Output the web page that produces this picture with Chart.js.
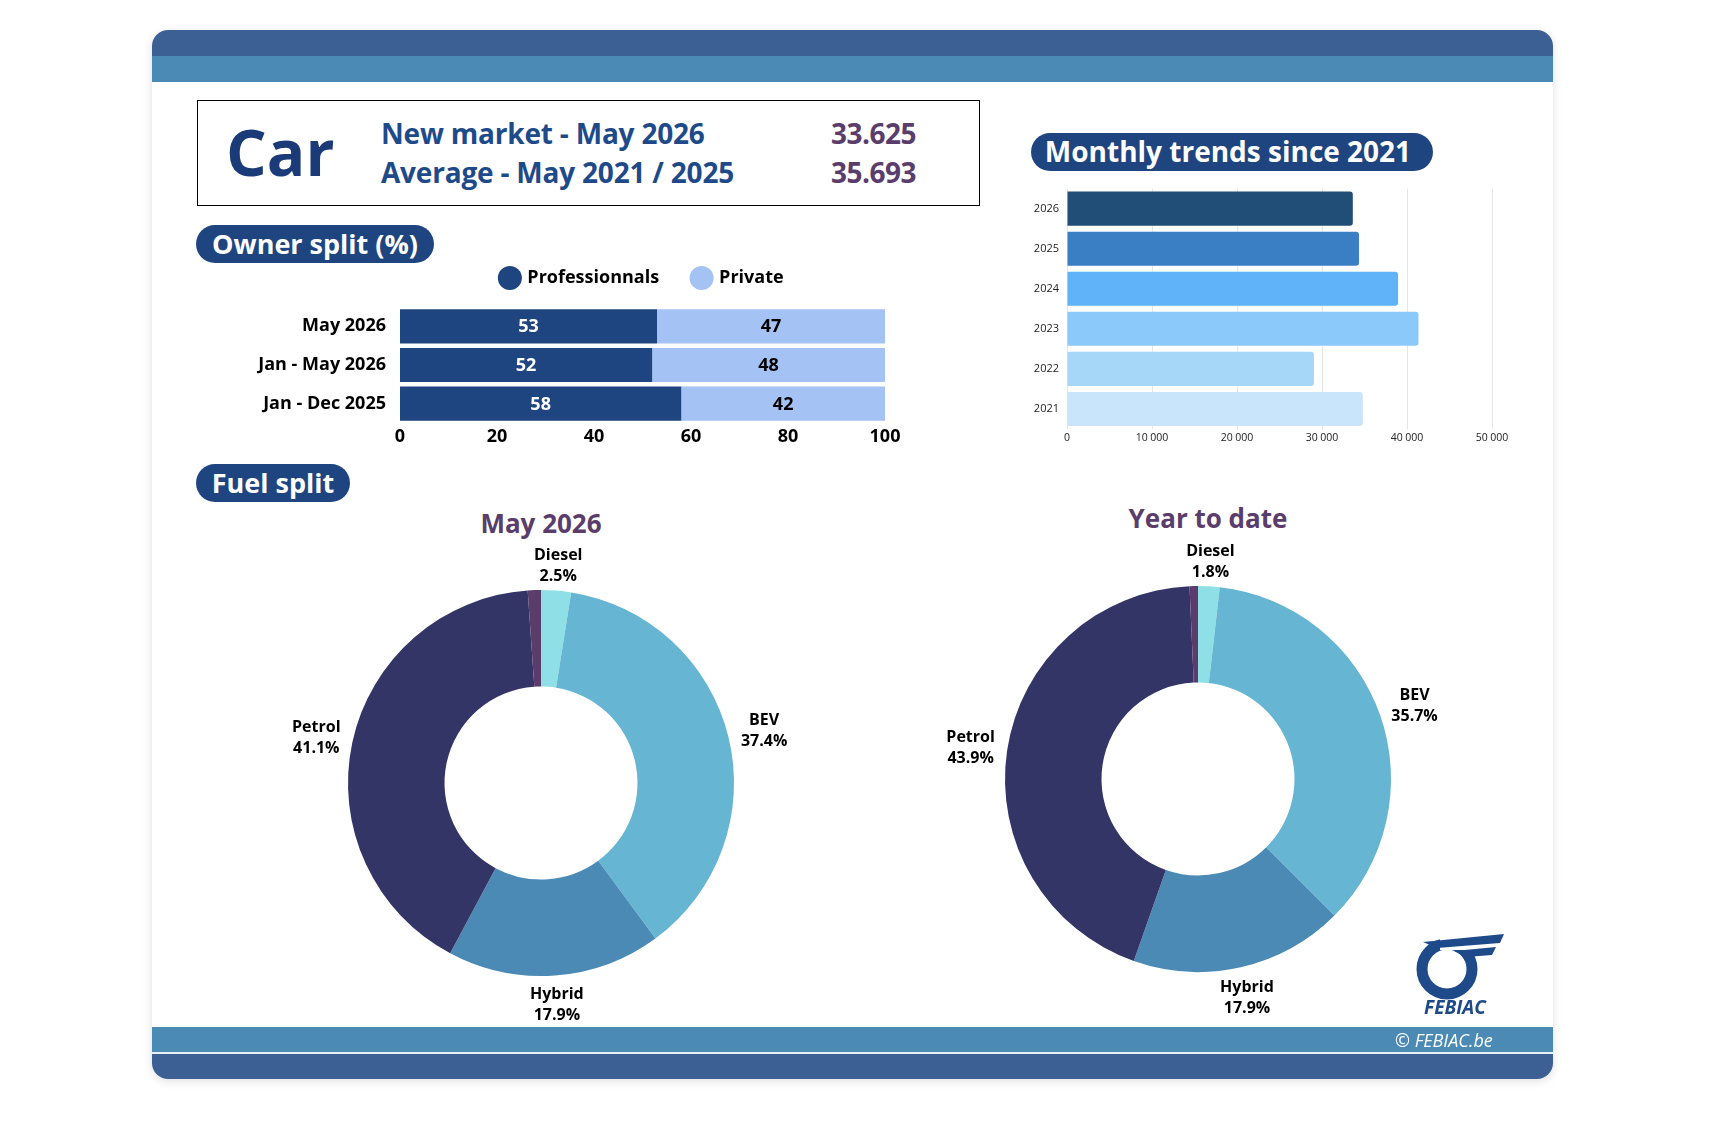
<!DOCTYPE html>
<html>
<head>
<meta charset="utf-8">
<title>Car - new market May 2026</title>
<script src="https://cdn.jsdelivr.net/npm/chart.js@4.4.1/dist/chart.umd.min.js"></script>
<style>
  html, body { margin: 0; padding: 0; }
  body {
    width: 1732px; height: 1132px; position: relative; overflow: hidden;
    background: #fff; font-family: 'Open Sans', sans-serif;
  }
  .abs  { position: absolute; }
  .card {
    left: 152px; top: 30px; width: 1401px; height: 1049px;
    border-radius: 16px; background: #fff; overflow: hidden;
    box-shadow: 0 2px 10px rgba(0,0,0,0.13);
  }
  .band { position: absolute; left: 0; width: 100%; }
  .pill {
    background: #1e4580; color: #fff; font-weight: 700; font-size: 27px;
    height: 38px; line-height: 37px; border-radius: 19px; text-align: center;
    white-space: nowrap; box-sizing: border-box;
  }
  .kpi-box {
    left: 197px; top: 100px; width: 781px; height: 104px;
    border: 1px solid #000; background: #fff;
  }
  .kpi-car {
    left: 226px; top: 104px; font-size: 64px; font-weight: 700; color: #1b3a78;
    line-height: 96px;
  }
  .kpi-label { left: 381px; font-size: 28px; font-weight: 700; color: #1f4a8a; letter-spacing: -0.2px; }
  .kpi-value { left: 831px; font-size: 28px; font-weight: 700; color: #5a3d6b; letter-spacing: -0.5px; }
  .donut-title {
    font-size: 26px; font-weight: 700; color: #5a3d6b; width: 300px;
    text-align: center; line-height: 32px;
  }
  canvas { position: absolute; }
</style>
</head>
<body>

<div class="abs card">
  <div class="band" style="top:0;height:26px;background:#3c5f94"></div>
  <div class="band" style="top:26px;height:26px;background:#4a8ab5"></div>
  <div class="band" style="top:997px;height:25px;background:#4a8ab5"></div>
  <div class="band" style="top:1022px;height:2px;background:#e8f0f8"></div>
  <div class="band" style="top:1024px;height:25px;background:#3c5f94"></div>
</div>

<div class="abs kpi-box"></div>
<div class="abs kpi-car">Car</div>
<div class="abs kpi-label" style="top:114px">New market - May 2026</div>
<div class="abs kpi-label" style="top:153px">Average - May 2021 / 2025</div>
<div class="abs kpi-value" style="top:114px">33.625</div>
<div class="abs kpi-value" style="top:153px">35.693</div>

<div class="abs pill" style="left:196px;top:225px;width:238px">Owner split (%)</div>
<div class="abs pill" style="left:1031px;top:133px;width:402px;font-size:28px;padding-right:8px">Monthly trends since 2021</div>
<div class="abs pill" style="left:196px;top:464px;width:154px">Fuel split</div>

<canvas id="ownerChart" width="705" height="220" style="left:200px;top:235px"></canvas>
<canvas id="trendChart" width="502" height="277" style="left:1020px;top:174px"></canvas>

<div class="abs donut-title" style="left:391px;top:507px">May 2026</div>
<div class="abs donut-title" style="left:1058px;top:502px">Year to date</div>
<canvas id="fuelMonthChart" width="600" height="540" style="left:241px;top:513px"></canvas>
<canvas id="fuelYtdChart" width="600" height="540" style="left:898px;top:509px"></canvas>

<!-- FEBIAC logo -->
<svg class="abs" style="left:1410px;top:928px" width="96" height="92" viewBox="0 0 96 92">
  <circle cx="37" cy="41" r="25" fill="none" stroke="#1f4a8a" stroke-width="11"/>
  <rect x="30" y="6" width="34" height="16" fill="#fff"/>
  <path d="M13 14 L94 6 L90 15 L27 20 Z" fill="#1f4a8a"/>
  <path d="M44 23 L86 19 L82 27 L56 29 Z" fill="#1f4a8a"/>
  <text x="45" y="86" text-anchor="middle" font-family="'Open Sans', sans-serif"
        font-size="19" font-weight="700" font-style="italic" fill="#1f4a8a">FEBIAC</text>
</svg>
<div class="abs" style="left:1395px;top:1028px;color:#fff;font-size:18px;font-style:italic;line-height:24px">© FEBIAC.be</div>

<script>
'use strict';

// ---------------------------------------------------------------------------
// Data
// ---------------------------------------------------------------------------

const ownerPeriods = ['May 2026', 'Jan - May 2026', 'Jan - Dec 2025'];
const ownerPro     = [53, 52, 58];
const ownerPrivate = [47, 48, 42];

const trendYears  = ['2026', '2025', '2024', '2023', '2022', '2021'];
const trendValues = [33625, 34350, 38950, 41350, 29050, 34800];

const fuelTypes = ['Diesel', 'BEV', 'Hybrid', 'Petrol', 'Other'];
const fuelMonth = [2.5, 37.4, 17.9, 41.1, 1.1];
const fuelYtd   = [1.8, 35.7, 17.9, 43.9, 0.7];

// ---------------------------------------------------------------------------
// Styles
// ---------------------------------------------------------------------------

const PRO_COLOR     = '#1e4580';
const PRIVATE_COLOR = '#a4c2f4';
const TREND_COLORS  = ['#204e77', '#3a7fc4', '#60b3f8', '#8ac9f9', '#a6d6f8', '#c8e5fb'];
const FUEL_COLORS   = ['#8ee0e6', '#65b5d3', '#4a8ab5', '#333567', '#5a3d6b'];

Chart.defaults.font.family = "'Open Sans', sans-serif";
Chart.defaults.color = '#000';
Chart.defaults.animation = false;

function thousands(v) {
  return String(v).replace(/\B(?=(\d{3})+(?!\d))/g, ' ');
}

// ---------------------------------------------------------------------------
// Plugins
// ---------------------------------------------------------------------------

// value text centred in each stacked bar segment
const barValues = {
  id: 'barValues',
  afterDatasetsDraw(chart) {
    const { ctx } = chart;
    ctx.save();
    ctx.font = "700 18px 'Open Sans'";
    ctx.textAlign = 'center';
    ctx.textBaseline = 'middle';
    chart.data.datasets.forEach((ds, di) => {
      chart.getDatasetMeta(di).data.forEach((bar, i) => {
        ctx.fillStyle = di === 0 ? '#fff' : '#000';
        ctx.fillText(ds.data[i], (bar.x + bar.base) / 2, bar.y + 1);
      });
    });
    ctx.restore();
  },
};

// fixed legend height so the bars start where they should
const legendHeight = {
  id: 'legendHeight',
  afterInit(chart) {
    const fit = chart.legend.fit;
    chart.legend.fit = function () {
      fit.call(this);
      this.height = 72;
    };
  },
};

// name + share outside each doughnut slice
const outerLabels = {
  id: 'outerLabels',
  afterDatasetsDraw(chart) {
    const { ctx } = chart;
    const values = chart.data.datasets[0].data;
    ctx.save();
    ctx.font = "700 16px 'Open Sans'";
    ctx.fillStyle = '#000';
    ctx.textAlign = 'center';
    ctx.textBaseline = 'middle';
    chart.getDatasetMeta(0).data.forEach((arc, i) => {
      const name = chart.data.labels[i];
      if (name === 'Other') return;
      const a = (arc.startAngle + arc.endAngle) / 2;
      const r = arc.outerRadius + 26 + 11 * Math.abs(Math.cos(a));
      const x = arc.x + Math.cos(a) * r;
      const y = arc.y + Math.sin(a) * r + 2;
      ctx.fillText(name, x, y - 10);
      ctx.fillText(values[i].toFixed(1) + '%', x, y + 11);
    });
    ctx.restore();
  },
};

// ---------------------------------------------------------------------------
// Owner split
// ---------------------------------------------------------------------------

new Chart(document.getElementById('ownerChart'), {
  type: 'bar',
  data: {
    labels: ownerPeriods,
    datasets: [
      { label: 'Professionnals', data: ownerPro,     backgroundColor: PRO_COLOR },
      { label: 'Private',        data: ownerPrivate, backgroundColor: PRIVATE_COLOR },
    ],
  },
  options: {
    indexAxis: 'y',
    responsive: false,
    barPercentage: 0.885,
    categoryPercentage: 1,
    layout: { padding: { right: 20 } },
    plugins: {
      tooltip: { enabled: false },
      legend: {
        fullSize: false,
        labels: {
          usePointStyle: true, pointStyle: 'circle',
          boxWidth: 17, boxHeight: 17, padding: 34,
          font: { size: 18, weight: '700' }, color: '#000',
        },
      },
    },
    scales: {
      x: {
        stacked: true, min: 0, max: 100,
        grid: { display: false, drawTicks: false }, border: { display: false },
        ticks: { stepSize: 20, padding: 3, font: { size: 18, weight: '700' }, color: '#000' },
        afterFit: axis => { axis.height = 32; },
      },
      y: {
        stacked: true,
        grid: { display: false, drawTicks: false }, border: { display: false },
        ticks: { padding: 14, font: { size: 18, weight: '700' }, color: '#000' },
        afterFit: axis => { axis.width = 200; },
      },
    },
  },
  plugins: [barValues, legendHeight],
});

// ---------------------------------------------------------------------------
// Monthly trends
// ---------------------------------------------------------------------------

new Chart(document.getElementById('trendChart'), {
  type: 'bar',
  data: {
    labels: trendYears,
    datasets: [{
      data: trendValues,
      backgroundColor: TREND_COLORS,
      borderRadius: 3,
      borderSkipped: 'left',
    }],
  },
  options: {
    indexAxis: 'y',
    responsive: false,
    barPercentage: 0.85,
    categoryPercentage: 1,
    layout: { padding: { top: 9, right: 30 } },
    plugins: { legend: { display: false }, tooltip: { enabled: false } },
    scales: {
      x: {
        min: 0, max: 50000,
        grid: { color: '#e6e6e6', drawTicks: false }, border: { display: false },
        ticks: { stepSize: 10000, padding: 3, font: { size: 10.5 }, color: '#222', callback: v => thousands(v) },
        afterFit: axis => { axis.height = 22; },
      },
      y: {
        grid: { display: false, drawTicks: false }, border: { display: false },
        ticks: { padding: 8, font: { size: 11 }, color: '#222' },
        afterFit: axis => { axis.width = 47; },
      },
    },
  },
});

// ---------------------------------------------------------------------------
// Fuel split doughnuts
// ---------------------------------------------------------------------------

function fuelChart(id, values) {
  return new Chart(document.getElementById(id), {
    type: 'doughnut',
    data: {
      labels: fuelTypes,
      datasets: [{
        data: values,
        backgroundColor: FUEL_COLORS,
        borderWidth: 0,
        hoverOffset: 0,
      }],
    },
    options: {
      responsive: false,
      radius: 193,
      cutout: '50%',
      layout: { padding: { left: 107, right: 107, top: 77, bottom: 77 } },
      plugins: { legend: { display: false }, tooltip: { enabled: false } },
    },
    plugins: [outerLabels],
  });
}

fuelChart('fuelMonthChart', fuelMonth);
fuelChart('fuelYtdChart', fuelYtd);
</script>
</body>
</html>
